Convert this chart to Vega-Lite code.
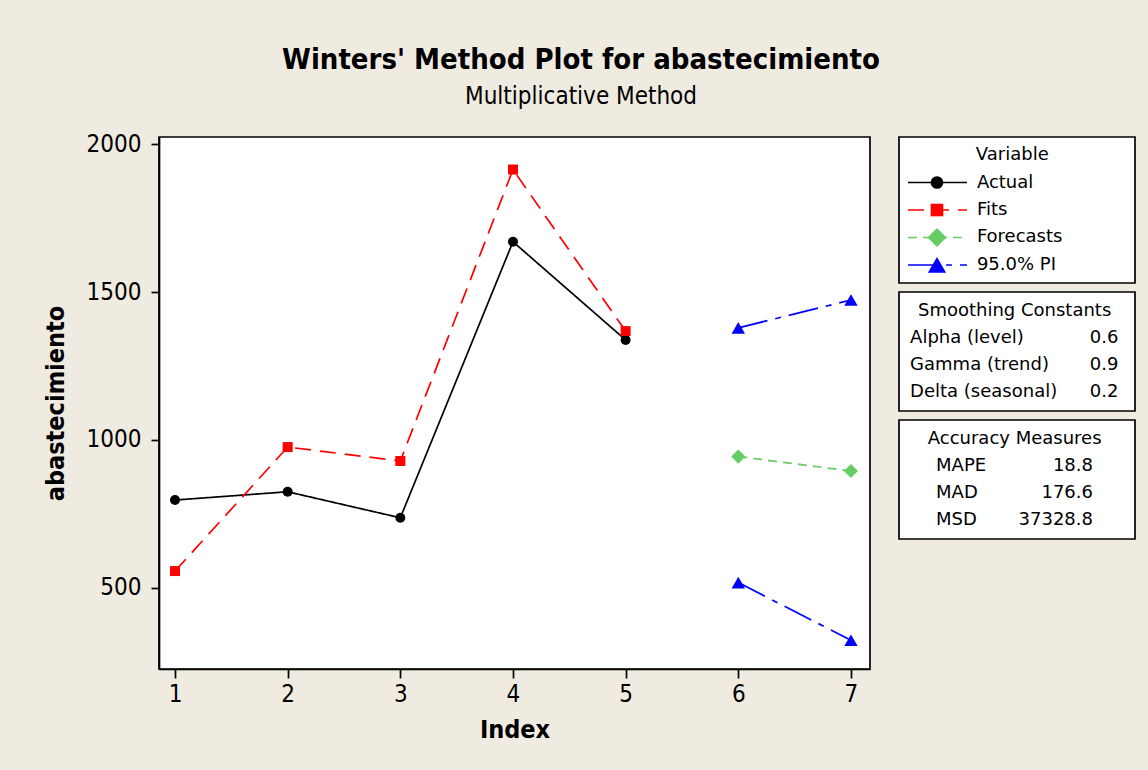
{
  "$schema": "https://vega.github.io/schema/vega-lite/v6.json",
  "padding": {"left": 42, "top": 46, "right": 20, "bottom": 40},
  "title": {
    "text": "Winters' Method Plot for abastecimiento",
    "subtitle": "Multiplicative Method",
    "font": "DejaVu Sans Condensed",
    "fontSize": 29,
    "fontWeight": "bold",
    "color": "black",
    "subtitleFont": "DejaVu Sans Condensed",
    "subtitleFontSize": 24,
    "subtitleColor": "black",
    "subtitlePadding": 10,
    "anchor": "middle",
    "offset": 22,
    "dx": -8
  },
  "datasets": {
    "series": [
      {"Index": 1, "value": 797, "series": "Actual", "group": "Actual"},
      {"Index": 2, "value": 825, "series": "Actual", "group": "Actual"},
      {"Index": 3, "value": 737, "series": "Actual", "group": "Actual"},
      {"Index": 4, "value": 1670, "series": "Actual", "group": "Actual"},
      {"Index": 5, "value": 1338, "series": "Actual", "group": "Actual"},
      {"Index": 1, "value": 557, "series": "Fits", "group": "Fits"},
      {"Index": 2, "value": 976, "series": "Fits", "group": "Fits"},
      {"Index": 3, "value": 929, "series": "Fits", "group": "Fits"},
      {"Index": 4, "value": 1914, "series": "Fits", "group": "Fits"},
      {"Index": 5, "value": 1368, "series": "Fits", "group": "Fits"},
      {"Index": 6, "value": 944, "series": "Forecasts", "group": "Forecasts"},
      {"Index": 7, "value": 895, "series": "Forecasts", "group": "Forecasts"},
      {"Index": 6, "value": 1379, "series": "95.0% PI", "group": "PI upper"},
      {"Index": 7, "value": 1473, "series": "95.0% PI", "group": "PI upper"},
      {"Index": 6, "value": 518, "series": "95.0% PI", "group": "PI lower"},
      {"Index": 7, "value": 323, "series": "95.0% PI", "group": "PI lower"}
    ],
    "variable": [
      {"label": "Variable", "kind": "header"},
      {"label": "Actual", "series": "Actual", "kind": "item"},
      {"label": "Fits", "series": "Fits", "kind": "item"},
      {"label": "Forecasts", "series": "Forecasts", "kind": "item"},
      {"label": "95.0% PI", "series": "95.0% PI", "kind": "item"}
    ],
    "smoothing": [
      {"label": "Smoothing Constants", "kind": "header"},
      {"label": "Alpha (level)", "stat": "0.6", "kind": "item"},
      {"label": "Gamma (trend)", "stat": "0.9", "kind": "item"},
      {"label": "Delta (seasonal)", "stat": "0.2", "kind": "item"}
    ],
    "accuracy": [
      {"label": "Accuracy Measures", "kind": "header"},
      {"label": "MAPE", "stat": "18.8", "kind": "item"},
      {"label": "MAD", "stat": "176.6", "kind": "item"},
      {"label": "MSD", "stat": "37328.8", "kind": "item"}
    ]
  },
  "hconcat": [
    {
      "width": 711,
      "height": 532,
      "data": {"name": "series"},
      "encoding": {
        "x": {
          "field": "Index",
          "type": "quantitative",
          "scale": {"domain": [0.858, 7.169], "nice": false, "zero": false},
          "axis": {
            "values": [1, 2, 3, 4, 5, 6, 7],
            "format": "d",
            "title": "Index",
            "titleFont": "DejaVu Sans Condensed",
            "titleFontSize": 25,
            "titleFontWeight": "bold",
            "titlePadding": 11,
            "labelFont": "DejaVu Sans Condensed",
            "labelFontSize": 24,
            "labelPadding": 4,
            "tickSize": 9
          }
        },
        "y": {
          "field": "value",
          "type": "quantitative",
          "scale": {"domain": [226, 2024], "nice": false, "zero": false},
          "axis": {
            "values": [500, 1000, 1500, 2000],
            "format": "d",
            "title": "abastecimiento",
            "titleFont": "DejaVu Sans Condensed",
            "titleFontSize": 25,
            "titleFontWeight": "bold",
            "titlePadding": 18,
            "labelFont": "DejaVu Sans Condensed",
            "labelFontSize": 24,
            "labelPadding": 10,
            "tickSize": 8
          }
        },
        "color": {
          "field": "series",
          "type": "nominal",
          "scale": {"domain": ["Actual", "Fits", "Forecasts", "95.0% PI"], "range": ["#000000", "#FF0000", "#66CC66", "#0000FF"]},
          "legend": null
        },
        "shape": {
          "field": "series",
          "type": "nominal",
          "scale": {"domain": ["Actual", "Fits", "Forecasts", "95.0% PI"], "range": ["circle", "square", "diamond", "triangle-up"]},
          "legend": null
        }
      },
      "layer": [
        {
          "mark": {"type": "line", "strokeWidth": 1.7},
          "encoding": {
            "detail": {"field": "group"},
            "order": {"field": "Index"},
            "strokeDash": {
              "field": "series",
              "type": "nominal",
              "scale": {"domain": ["Actual", "Fits", "Forecasts", "95.0% PI"], "range": [[1, 0], [16, 9], [9, 6], [30, 8, 6, 8]]},
              "legend": null
            }
          }
        },
        {
          "transform": [{"filter": "datum.series === 'Actual' || datum.series === 'Fits'"}],
          "mark": {"type": "point", "filled": true, "opacity": 1, "size": 100}
        },
        {
          "transform": [{"filter": "datum.series === 'Forecasts'"}],
          "mark": {"type": "point", "filled": true, "opacity": 1, "size": 200}
        },
        {
          "transform": [{"filter": "datum.series === '95.0% PI'"}],
          "mark": {"type": "point", "filled": true, "opacity": 1, "size": 180}
        }
      ]
    },
    {
      "vconcat": [
        {
          "width": 236,
          "height": 146,
          "data": {"name": "variable"},
          "encoding": {
            "y": {
              "field": "label",
              "type": "nominal",
              "scale": {"type": "point", "domain": ["Variable", "Actual", "Fits", "Forecasts", "95.0% PI"], "padding": 0.655},
              "axis": null
            },
            "color": {
              "field": "series",
              "type": "nominal",
              "scale": {"domain": ["Actual", "Fits", "Forecasts", "95.0% PI"], "range": ["#000000", "#FF0000", "#66CC66", "#0000FF"]},
              "legend": null
            },
            "shape": {
              "field": "series",
              "type": "nominal",
              "scale": {"domain": ["Actual", "Fits", "Forecasts", "95.0% PI"], "range": ["circle", "square", "diamond", "triangle-up"]},
              "legend": null
            }
          },
          "layer": [
            {
              "transform": [{"filter": "datum.kind === 'item'"}],
              "mark": {"type": "rule", "strokeWidth": 1.7},
              "encoding": {
                "x": {"datum": 0.038, "type": "quantitative", "scale": {"domain": [0, 1], "nice": false, "zero": false}, "axis": null},
                "x2": {"datum": 0.288},
                "shape": null,
                "strokeDash": {
                  "field": "series",
                  "type": "nominal",
                  "scale": {"domain": ["Actual", "Fits", "Forecasts", "95.0% PI"], "range": [[1, 0], [16, 9], [9, 6], [30, 8, 6, 8]]},
                  "legend": null
                }
              }
            },
            {
              "transform": [{"filter": "datum.series === 'Actual' || datum.series === 'Fits'"}],
              "mark": {"type": "point", "filled": true, "opacity": 1, "size": 160},
              "encoding": {"x": {"datum": 0.161, "type": "quantitative"}}
            },
            {
              "transform": [{"filter": "datum.series === 'Forecasts'"}],
              "mark": {"type": "point", "filled": true, "opacity": 1, "size": 360},
              "encoding": {"x": {"datum": 0.161, "type": "quantitative"}}
            },
            {
              "transform": [{"filter": "datum.series === '95.0% PI'"}],
              "mark": {"type": "point", "filled": true, "opacity": 1, "size": 330},
              "encoding": {"x": {"datum": 0.161, "type": "quantitative"}}
            },
            {
              "transform": [{"filter": "datum.kind === 'item'"}],
              "mark": {"type": "text", "align": "left", "baseline": "middle", "font": "DejaVu Sans", "fontSize": 18, "color": "black"},
              "encoding": {
                "x": {"datum": 0.33, "type": "quantitative"},
                "text": {"field": "label"},
                "color": null,
                "shape": null
              }
            },
            {
              "transform": [{"filter": "datum.kind === 'header'"}],
              "mark": {"type": "text", "align": "center", "baseline": "middle", "font": "DejaVu Sans", "fontSize": 18, "color": "black"},
              "encoding": {
                "x": {"datum": 0.48, "type": "quantitative"},
                "text": {"field": "label"},
                "color": null,
                "shape": null
              }
            }
          ]
        },
        {
          "width": 236,
          "height": 119,
          "data": {"name": "smoothing"},
          "encoding": {
            "y": {
              "field": "label",
              "type": "nominal",
              "scale": {"type": "point", "domain": ["Smoothing Constants", "Alpha (level)", "Gamma (trend)", "Delta (seasonal)"], "padding": 0.704},
              "axis": null
            }
          },
          "layer": [
            {
              "transform": [{"filter": "datum.kind === 'header'"}],
              "mark": {"type": "text", "align": "center", "baseline": "middle", "font": "DejaVu Sans", "fontSize": 18, "color": "black"},
              "encoding": {
                "x": {"datum": 0.49, "type": "quantitative", "scale": {"domain": [0, 1], "nice": false, "zero": false}, "axis": null},
                "text": {"field": "label"}
              }
            },
            {
              "transform": [{"filter": "datum.kind === 'item'"}],
              "mark": {"type": "text", "align": "left", "baseline": "middle", "font": "DejaVu Sans", "fontSize": 18, "color": "black"},
              "encoding": {
                "x": {"datum": 0.047, "type": "quantitative"},
                "text": {"field": "label"}
              }
            },
            {
              "transform": [{"filter": "datum.kind === 'item'"}],
              "mark": {"type": "text", "align": "right", "baseline": "middle", "font": "DejaVu Sans", "fontSize": 18, "color": "black"},
              "encoding": {
                "x": {"datum": 0.93, "type": "quantitative"},
                "text": {"field": "stat"}
              }
            }
          ]
        },
        {
          "width": 236,
          "height": 119,
          "data": {"name": "accuracy"},
          "encoding": {
            "y": {
              "field": "label",
              "type": "nominal",
              "scale": {"type": "point", "domain": ["Accuracy Measures", "MAPE", "MAD", "MSD"], "padding": 0.704},
              "axis": null
            }
          },
          "layer": [
            {
              "transform": [{"filter": "datum.kind === 'header'"}],
              "mark": {"type": "text", "align": "center", "baseline": "middle", "font": "DejaVu Sans", "fontSize": 18, "color": "black"},
              "encoding": {
                "x": {"datum": 0.49, "type": "quantitative", "scale": {"domain": [0, 1], "nice": false, "zero": false}, "axis": null},
                "text": {"field": "label"}
              }
            },
            {
              "transform": [{"filter": "datum.kind === 'item'"}],
              "mark": {"type": "text", "align": "left", "baseline": "middle", "font": "DejaVu Sans", "fontSize": 18, "color": "black"},
              "encoding": {
                "x": {"datum": 0.157, "type": "quantitative"},
                "text": {"field": "label"}
              }
            },
            {
              "transform": [{"filter": "datum.kind === 'item'"}],
              "mark": {"type": "text", "align": "right", "baseline": "middle", "font": "DejaVu Sans", "fontSize": 18, "color": "black"},
              "encoding": {
                "x": {"datum": 0.822, "type": "quantitative"},
                "text": {"field": "stat"}
              }
            }
          ]
        }
      ],
      "spacing": 7
    }
  ],
  "spacing": 27,
  "config": {
    "background": "#F0EBE1",
    "font": "DejaVu Sans",
    "view": {"stroke": "#000000", "strokeWidth": 1.7, "fill": "#FFFFFF"},
    "axis": {
      "grid": false,
      "domainColor": "#000000",
      "domainWidth": 1.7,
      "tickColor": "#000000",
      "tickWidth": 1.7,
      "labelColor": "#000000",
      "titleColor": "#000000"
    }
  }
}
